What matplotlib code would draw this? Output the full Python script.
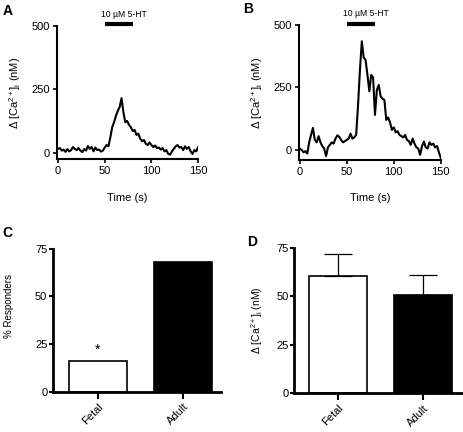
import matplotlib
matplotlib.use("Agg")
import matplotlib.pyplot as plt
import numpy as np

plt.rcParams['font.family'] = ['Liberation Sans', 'DejaVu Sans']
plt.rcParams['mathtext.fontset'] = 'custom'
plt.rcParams['mathtext.rm'] = 'Liberation Sans'
plt.rcParams['mathtext.it'] = 'Liberation Sans:italic'
plt.rcParams['mathtext.default'] = 'regular'

# traces, sampled every 2 s
time_s = list(range(0, 152, 2))
trace_a = [15, 18, 8, 12, 3, 14, 5, 10, 22, 15, 10, 18, 8, 2, 14, 8, 26, 15, 22, 5,
           20, 10, 12, 4, 8, 20, 30, 25, 60, 100, 120, 145, 165, 180, 215, 160, 120, 125, 110, 100,
           85, 90, 70, 75, 55, 45, 50, 35, 30, 40, 30, 22, 28, 18, 20, 12, 18, 5, 10, -5,
           -8, 5, 15, 25, 30, 20, 22, 10, 25, 15, 22, 5, -5, 10, 5, 22]
trace_b = [5, 0, -10, -5, -15, 30, 60, 88, 40, 30, 55, 30, 15, 5, -25, 10, 20, 30, 25, 45,
           58, 52, 40, 30, 35, 40, 45, 65, 45, 50, 60, 180, 320, 435, 370, 360, 300, 235, 300, 290,
           140, 240, 260, 215, 205, 200, 120, 130, 110, 80, 90, 70, 75, 60, 55, 50, 60, 40, 35, 20,
           45, 25, 10, 5, -20, 15, 33, 10, 5, 30, 20, 25, 10, 15, -10, -32]
drug_on = [50, 80]
drug_label = '10 µM 5-HT'

groups = ['Fetal', 'Adult']
responders = [16, 68]
amplitude = [60.5, 50.5]
amplitude_err = [11.5, 10.5]

ca_label = r'$\Delta$ [Ca$^{2+}$]$_i$ (nM)'
fs = 8

fig = plt.figure(figsize=(4.64, 4.32), dpi=100)


def trace_panel(rect, t, y, ylo):
    ax = fig.add_axes(rect)
    ax.plot(t, y, color='black', lw=1.5)
    ax.set_xlim(-1, 150)
    ax.set_ylim(ylo, 500)
    ax.set_xticks([0, 50, 100, 150])
    ax.set_yticks([0, 250, 500])
    ax.spines['top'].set_visible(False)
    ax.spines['right'].set_visible(False)
    ax.spines['bottom'].set_bounds(0, 150)
    for s in ['left', 'bottom']:
        ax.spines[s].set_linewidth(1.5)
    ax.tick_params(direction='out', length=3, width=1.2, labelsize=fs, pad=2)
    ax.set_xlabel('Time (s)', fontsize=fs, labelpad=12)
    ax.set_ylabel(ca_label, fontsize=fs, labelpad=6)
    ax.plot(drug_on, [506, 506], color='black', lw=3, clip_on=False, solid_capstyle='butt')
    ax.text(np.mean(drug_on) + 5, 528, drug_label, fontsize=6.2, ha='center', va='bottom')
    return ax


axA = trace_panel([0.123, 0.632, 0.304, 0.308], time_s, trace_a, -25)
axB = trace_panel([0.644, 0.630, 0.306, 0.312], time_s, trace_b, -40)


def bar_panel(rect, vals, err, ylabel, ylfs, xlim):
    ax = fig.add_axes(rect)
    x = np.arange(len(groups))
    kw = {}
    if err is not None:
        kw = dict(yerr=[[0, 0], err], error_kw=dict(ecolor='black', elinewidth=0.9,
                                                      capsize=10, capthick=0.9))
    ax.bar(x, vals, width=0.68, color=['white', 'black'], edgecolor='black',
           linewidth=1.2, **kw)
    ax.set_xlim(*xlim)
    ax.set_ylim(0, 75)
    ax.set_yticks([0, 25, 50, 75])
    ax.set_xticks(x)
    ax.set_xticklabels(groups, rotation=45, ha='right', rotation_mode='anchor')
    ax.spines['top'].set_visible(False)
    ax.spines['right'].set_visible(False)
    for s in ['left', 'bottom']:
        ax.spines[s].set_linewidth(2)
    ax.tick_params(axis='y', direction='out', length=3, width=1.5, labelsize=fs, pad=1)
    ax.tick_params(axis='x', direction='out', length=5, width=1.5, labelsize=fs, pad=2)
    ax.set_ylabel(ylabel, fontsize=ylfs, labelpad=8)
    return ax


axC = bar_panel([0.114, 0.093, 0.362, 0.331], responders, None, '% Responders', 7, (-0.53, 1.447))
axC.yaxis.set_label_coords(-0.23, 0.6)
axC.text(0, responders[0] + 2.5, '*', fontsize=10, ha='center', va='bottom')
axD = bar_panel([0.634, 0.090, 0.366, 0.336], amplitude, amplitude_err, ca_label, 7.5, (-0.52, 1.48))

for lab, (x, y) in zip('ABCD', [(0.005, 0.99), (0.525, 0.995), (0.005, 0.478), (0.532, 0.455)]):
    fig.text(x, y, lab, fontsize=10, fontweight='bold', va='top', ha='left')

fig.savefig('out.png', dpi=100)
